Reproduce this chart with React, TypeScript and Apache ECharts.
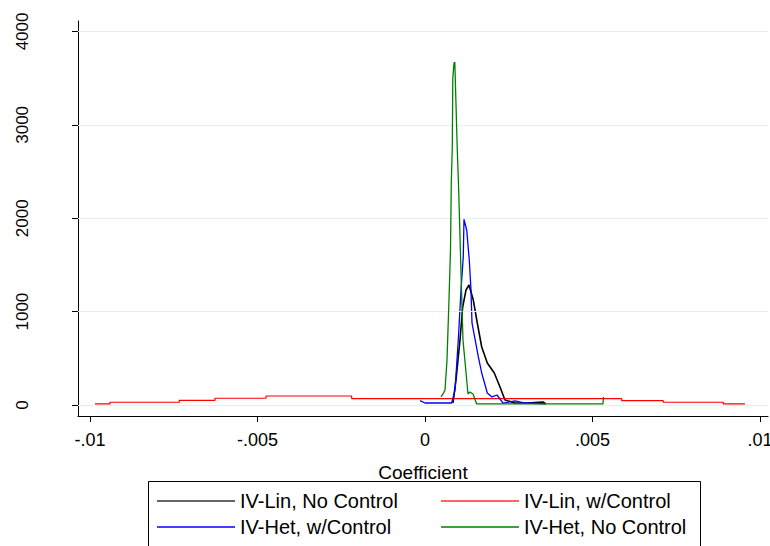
import React, { useEffect, useRef } from "react";
import * as echarts from "echarts";

// Axis ticks
const xTicks = [-0.01, -0.005, 0, 0.005, 0.01];
const yTicks = [0, 1000, 2000, 3000, 4000];

// Series names
const nameLinNo = "IV-Lin, No Control";
const nameLinW = "IV-Lin, w/Control";
const nameHetW = "IV-Het, w/Control";
const nameHetNo = "IV-Het, No Control";

// IV-Lin, No Control (black)
const linNoX = [0.000836, 0.000925, 0.000985, 0.001045, 0.001125, 0.001224, 0.001313, 0.001442, 0.001561, 0.001693, 0.00186, 0.002069, 0.002239, 0.002388, 0.002687, 0.003045, 0.003522, 0.003612];
const linNoY = [21, 268, 482, 696, 1049, 1231, 1285, 1124, 878, 621, 450, 343, 193, 54, 21, 21, 32, 11];

// IV-Lin, w/Control (red, step)
const linWX = [-0.009851, -0.009403, -0.007334, -0.006269, -0.004746, -0.002188, 0.005872, 0.007113, 0.008904, 0.009552];
const linWY = [11, 29, 50, 72, 96, 67, 46, 29, 11, 11];

// IV-Het, w/Control (blue)
const hetWX = [-0.000149, 0, 0.000797, 0.000896, 0.000994, 0.001075, 0.001143, 0.001164, 0.001245, 0.001322, 0.001373, 0.001403, 0.001591, 0.001693, 0.00186, 0.002, 0.00215, 0.00233, 0.00269, 0.00299, 0.0036];
const hetWY = [46, 21, 21, 161, 696, 1231, 1588, 1988, 1874, 1552, 1231, 878, 517, 343, 128, 86, 107, 21, 43, 21, 11];

// IV-Het, No Control (green)
const hetNoX = [0.000478, 0.000537, 0.000597, 0.000657, 0.000716, 0.000761, 0.000785, 0.000815, 0.00083, 0.000866, 0.00089, 0.000916, 0.000964, 0.001006, 0.001045, 0.00109, 0.001134, 0.001245, 0.001284, 0.001343, 0.001433, 0.001543, 0.005313, 0.005328];
const hetNoY = [86, 118, 161, 482, 1124, 1660, 2377, 2762, 3501, 3662, 3672, 3340, 2730, 2302, 1799, 1231, 696, 268, 118, 139, 118, 11, 11, 86];

const zip = (xs: number[], ys: number[]) => xs.map((x, i) => [x, ys[i]]);

const FONT = "'Liberation Sans', Arial, Helvetica, sans-serif";

const fmtX = (v: number) => {
  if (Math.abs(v) < 1e-12) return "0";
  const s = String(Math.abs(v)).replace(/^0/, "");
  return (v < 0 ? "-" : "") + s;
};

export default function App() {
  const ref = useRef<HTMLDivElement>(null);
  useEffect(() => {
    if (!ref.current) return;
    const chart = echarts.init(ref.current, null, { renderer: "svg" });
    const legendText = { fontFamily: FONT, fontSize: 20, color: "#000", lineHeight: 20 };
    const legendBase = {
      orient: "vertical",
      top: 491,
      padding: 0,
      height: 50,
      icon: "rect",
      itemWidth: 78,
      itemHeight: 1.4,
      itemGap: 6,
      selectedMode: false,
      textStyle: legendText,
    };
    chart.setOption({
      animation: false,
      backgroundColor: "#fff",
      grid: { left: 78, right: 2, top: 21, bottom: 130, containLabel: false, outerBoundsMode: "none" },
      xAxis: {
        type: "value",
        min: -0.010358,
        max: 0.010239,
        name: "Coefficient",
        nameLocation: "middle",
        nameGap: 47,
        nameTextStyle: { fontFamily: FONT, fontSize: 19, color: "#000" },
        axisLine: { show: true, onZero: false, lineStyle: { color: "#000", width: 1 } },
        axisTick: { show: true, length: 6, customValues: xTicks, lineStyle: { color: "#000" } },
        axisLabel: { customValues: xTicks, formatter: fmtX, fontFamily: FONT, fontSize: 18, color: "#000", margin: 15 },
        splitLine: { show: false },
      },
      yAxis: {
        type: "value",
        min: -118,
        max: 4112,
        axisLine: { show: true, onZero: false, lineStyle: { color: "#000", width: 1 } },
        axisTick: { show: true, length: 6, customValues: yTicks, lineStyle: { color: "#000" } },
        axisLabel: {
          customValues: yTicks,
          formatter: (v: number) => String(v),
          rotate: 90,
          fontFamily: FONT,
          fontSize: 17,
          color: "#000",
          margin: 47,
        },
        splitLine: { show: false },
      },
      legend: [
        { ...legendBase, data: [nameLinNo, nameHetW], left: 157 },
        { ...legendBase, data: [nameLinW, nameHetNo], left: 441 },
      ],
      graphic: [
        {
          type: "rect",
          shape: { x: 148.5, y: 481.5, width: 552, height: 80 },
          style: { fill: "none", stroke: "#000", lineWidth: 1 },
          silent: true,
          z: 0,
        },
      ],
      series: [
        {
          name: "grid",
          type: "line",
          data: [],
          z: 1,
          silent: true,
          markLine: {
            silent: true,
            symbol: "none",
            label: { show: false },
            lineStyle: { color: "#e6eff0", width: 1, type: "solid" },
            data: yTicks.map((v) => ({ yAxis: v })),
          },
        },
        {
          name: nameLinNo,
          type: "line",
          data: zip(linNoX, linNoY),
          showSymbol: false,
          symbol: "none",
          z: 2,
          lineStyle: { color: "#000", width: 1.6 },
          itemStyle: { color: "#333" },
        },
        {
          name: nameLinW,
          type: "line",
          step: "end",
          data: zip(linWX, linWY),
          showSymbol: false,
          symbol: "none",
          z: 3,
          lineStyle: { color: "#ff0000", width: 1.2 },
          itemStyle: { color: "#ff3030" },
        },
        {
          name: nameHetW,
          type: "line",
          data: zip(hetWX, hetWY),
          showSymbol: false,
          symbol: "none",
          z: 4,
          lineStyle: { color: "#0000ff", width: 1.3 },
          itemStyle: { color: "#0000ff" },
        },
        {
          name: nameHetNo,
          type: "line",
          data: zip(hetNoX, hetNoY),
          showSymbol: false,
          symbol: "none",
          z: 5,
          lineStyle: { color: "#008000", width: 1.3 },
          itemStyle: { color: "#008000" },
        },
      ],
    });
    return () => chart.dispose();
  }, []);
  return <div ref={ref} style={{ position: "fixed", left: 0, top: 0, width: 770, height: 546 }} />;
}
